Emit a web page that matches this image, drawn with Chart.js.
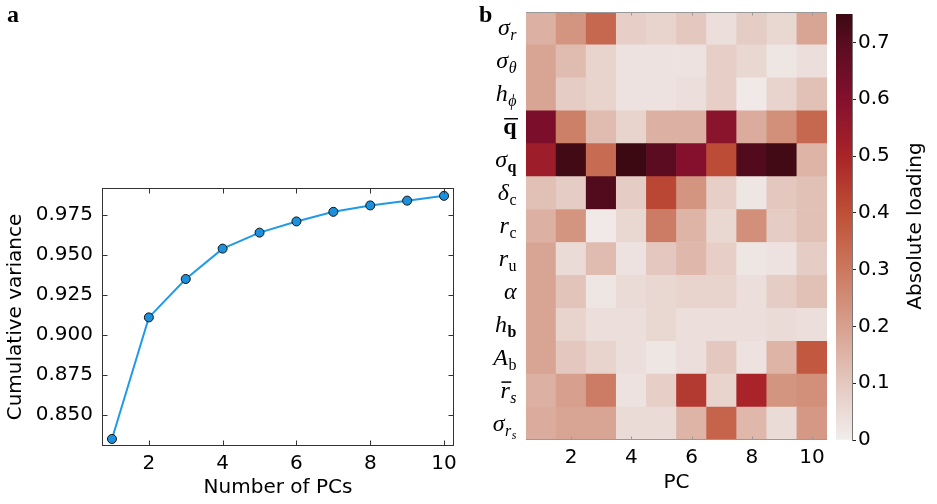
<!DOCTYPE html>
<html>
<head>
<meta charset="utf-8">
<script src="https://cdn.jsdelivr.net/npm/chart.js@4.4.1/dist/chart.umd.min.js"></script>
<style>
  body { margin: 0; background: #fff; }
  #wrap { position: relative; width: 937px; height: 504px; overflow: hidden; }
  canvas { position: absolute; top: 0; }
  .panel { position: absolute; top: 2px; font: bold 24px/24px 'Liberation Serif', serif; color: #000; }
</style>
</head>
<body>
<div id="wrap">
  <canvas id="varChart" width="470" height="504" style="left:0"></canvas>
  <canvas id="heatChart" width="366" height="504" style="left:470px"></canvas>
  <canvas id="barChart" width="101" height="504" style="left:836px"></canvas>
  <div class="panel" style="left:7px">a</div>
  <div class="panel" style="left:479px">b</div>
</div>
<script>
// panel a
var pcs = [1, 2, 3, 4, 5, 6, 7, 8, 9, 10];
var cumVar = [0.835, 0.911, 0.935, 0.954, 0.964, 0.971, 0.977, 0.981, 0.984, 0.987];
var varTicks = [0.850, 0.875, 0.900, 0.925, 0.950, 0.975];
var pcTicks = [2, 4, 6, 8, 10];

// panel b
var pcLabels = ['1', '2', '3', '4', '5', '6', '7', '8', '9', '10'];
var rows = ['σ_r', 'σ_θ', 'h_ϕ', 'q̄', 'σ_q', 'δ_c', 'r_c', 'r_u', 'α', 'h_b', 'A_b', 'r̄_s', 'σ_rs'];
var loadings = [
  [0.16, 0.23, 0.34, 0.08, 0.07, 0.10, 0.04, 0.09, 0.06, 0.19],
  [0.19, 0.13, 0.07, 0.03, 0.03, 0.03, 0.08, 0.06, 0.02, 0.04],
  [0.19, 0.09, 0.07, 0.03, 0.03, 0.04, 0.08, 0.01, 0.07, 0.12],
  [0.62, 0.28, 0.13, 0.07, 0.16, 0.16, 0.58, 0.17, 0.24, 0.34],
  [0.53, 0.74, 0.33, 0.75, 0.69, 0.60, 0.41, 0.71, 0.74, 0.15],
  [0.12, 0.09, 0.71, 0.09, 0.42, 0.23, 0.08, 0.02, 0.10, 0.12],
  [0.16, 0.23, 0.01, 0.06, 0.29, 0.15, 0.06, 0.24, 0.09, 0.12],
  [0.19, 0.05, 0.13, 0.03, 0.10, 0.14, 0.08, 0.02, 0.03, 0.09],
  [0.19, 0.11, 0.02, 0.05, 0.06, 0.07, 0.07, 0.04, 0.09, 0.12],
  [0.19, 0.07, 0.04, 0.04, 0.06, 0.04, 0.04, 0.04, 0.05, 0.04],
  [0.19, 0.10, 0.07, 0.04, 0.02, 0.04, 0.10, 0.03, 0.15, 0.38],
  [0.16, 0.20, 0.29, 0.03, 0.08, 0.45, 0.07, 0.50, 0.23, 0.24],
  [0.17, 0.19, 0.19, 0.05, 0.05, 0.15, 0.35, 0.14, 0.05, 0.22]
];
var cbMax = 0.75;
var cbTicks = [0, 0.1, 0.2, 0.3, 0.4, 0.5, 0.6, 0.7];

// colormap (like cmocean amp), keyed on loading value
var ampStops = [
  [0, [241, 237, 236]], [0.1, [228, 200, 191]], [0.2, [215, 160, 142]],
  [0.3, [203, 120, 95]], [0.4, [190, 80, 55]], [0.5, [168, 36, 40]],
  [0.6, [132, 16, 46]], [0.7, [88, 12, 32]], [0.75, [60, 9, 18]]
];
function ampColor(v) {
  for (var i = 1; i < ampStops.length; i++) {
    if (v <= ampStops[i][0]) {
      var a = ampStops[i - 1], b = ampStops[i];
      var t = (v - a[0]) / (b[0] - a[0]);
      var c = a[1].map(function (ch, k) { return Math.round(ch + (b[1][k] - ch) * t); });
      return 'rgb(' + c.join(',') + ')';
    }
  }
  return 'rgb(60,9,18)';
}

var tickFont = { family: 'DejaVu Sans', size: 20 };

// frame with inward ticks for panel a
var boxTicks = {
  id: 'boxTicks',
  afterDraw: function (chart) {
    var ctx = chart.ctx, a = chart.chartArea, x = chart.scales.x, y = chart.scales.y;
    var l = Math.round(a.left) + 0.5, r = Math.round(a.right) - 0.5;
    var t = Math.round(a.top) + 0.5, b = Math.round(a.bottom) - 0.5;
    ctx.save();
    ctx.strokeStyle = '#333';
    ctx.lineWidth = 1;
    ctx.strokeRect(l, t, r - l, b - t);
    ctx.beginPath();
    varTicks.forEach(function (v) {
      var py = Math.round(y.getPixelForValue(v)) + 0.5;
      ctx.moveTo(l, py); ctx.lineTo(l + 5, py);
      ctx.moveTo(r, py); ctx.lineTo(r - 5, py);
    });
    pcTicks.forEach(function (v) {
      var px = Math.round(x.getPixelForValue(v)) + 0.5;
      ctx.moveTo(px, b); ctx.lineTo(px, b - 5);
      ctx.moveTo(px, t); ctx.lineTo(px, t + 5);
    });
    ctx.stroke();
    ctx.restore();
  }
};

new Chart(document.getElementById('varChart'), {
  type: 'line',
  data: {
    datasets: [{
      data: pcs.map(function (p, i) { return { x: p, y: cumVar[i] }; }),
      borderColor: '#1f9ae8',
      borderWidth: 2,
      pointRadius: 4.5,
      pointBackgroundColor: '#1b90dd',
      pointBorderColor: '#111',
      pointBorderWidth: 1,
      tension: 0
    }]
  },
  options: {
    responsive: false,
    animation: false,
    layout: { padding: { left: 0, top: 188, right: 16, bottom: 0 } },
    plugins: { legend: { display: false }, tooltip: { enabled: false } },
    scales: {
      x: {
        type: 'linear', min: 0.73, max: 10.27,
        afterBuildTicks: function (s) { s.ticks = pcTicks.map(function (v) { return { value: v }; }); },
        afterFit: function (s) { s.height = 58; },
        grid: { display: false, drawTicks: false },
        border: { display: false },
        ticks: { padding: 6, color: '#000', font: tickFont, maxRotation: 0 },
        title: { display: true, text: 'Number of PCs', color: '#000', font: tickFont, padding: { top: 0, bottom: 4 } }
      },
      y: {
        min: 0.8306, max: 0.9919,
        afterBuildTicks: function (s) { s.ticks = varTicks.map(function (v) { return { value: v }; }); },
        afterFit: function (s) { s.width = 102; },
        grid: { display: false, drawTicks: false },
        border: { display: false },
        ticks: { padding: 9, color: '#000', font: tickFont, callback: function (v) { return v.toFixed(3); } },
        title: { display: true, text: 'Cumulative variance', color: '#000', font: tickFont, padding: { top: 4, bottom: 0 } }
      }
    }
  },
  plugins: [boxTicks]
});

// row labels drawn as small math: [text, style, level, overbar]
var rowParts = {
  'σ_r': [['σ', 'i', 0], ['r', 'i', 1]],
  'σ_θ': [['σ', 'i', 0], ['θ', 'i', 1]],
  'h_ϕ': [['h', 'i', 0], ['ϕ', 'i', 1]],
  'q̄': [['q', 'b', 0, true]],
  'σ_q': [['σ', 'i', 0], ['q', 'b', 1]],
  'δ_c': [['δ', 'i', 0], ['c', 'r', 1]],
  'r_c': [['r', 'i', 0], ['c', 'r', 1]],
  'r_u': [['r', 'i', 0], ['u', 'r', 1]],
  'α': [['α', 'i', 0]],
  'h_b': [['h', 'i', 0], ['b', 'b', 1]],
  'A_b': [['A', 'i', 0], ['b', 'r', 1]],
  'r̄_s': [['r', 'i', 0, true], ['s', 'i', 1]],
  'σ_rs': [['σ', 'i', 0], ['r', 'i', 1], ['s', 'i', 2]]
};
var sizes = [24, 16, 12], drops = [0, 5, 8];
function partFont(p) {
  var st = p[1] === 'i' ? 'italic ' : (p[1] === 'b' ? 'bold ' : '');
  return st + sizes[p[2]] + 'px "Liberation Serif", serif';
}
function drawMath(ctx, parts, right, base) {
  var widths = parts.map(function (p) { ctx.font = partFont(p); return ctx.measureText(p[0]).width + 0.5; });
  var x = right - widths.reduce(function (s, w) { return s + w; }, 0);
  parts.forEach(function (p, i) {
    ctx.font = partFont(p);
    ctx.fillText(p[0], x, base + drops[p[2]]);
    if (p[3]) {
      var by = base - Math.round(sizes[p[2]] * 0.66) + 0.5;
      ctx.beginPath();
      ctx.moveTo(x + 1, by); ctx.lineTo(x + widths[i] + 1, by);
      ctx.stroke();
    }
    x += widths[i];
  });
}

var heatDecor = {
  id: 'heatDecor',
  afterDraw: function (chart) {
    var ctx = chart.ctx, a = chart.chartArea, x = chart.scales.x, y = chart.scales.y;
    var t = Math.round(a.top) + 0.5, b = Math.round(a.bottom) - 0.5;
    ctx.save();
    ctx.strokeStyle = '#999';
    ctx.lineWidth = 1;
    ctx.beginPath();
    ctx.moveTo(a.left, t); ctx.lineTo(a.right, t);
    ctx.moveTo(a.left, b); ctx.lineTo(a.right, b);
    pcLabels.forEach(function (l, i) {
      if (i % 2 === 1) {
        var px = Math.round(x.getPixelForValue(i)) + 0.5;
        ctx.moveTo(px, t); ctx.lineTo(px, t + 3);
        ctx.moveTo(px, b); ctx.lineTo(px, b - 3);
      }
    });
    ctx.stroke();
    ctx.fillStyle = '#000';
    ctx.strokeStyle = '#000';
    ctx.lineWidth = 1.5;
    ctx.textAlign = 'left';
    ctx.textBaseline = 'alphabetic';
    rows.forEach(function (r, i) {
      var py = y.getPixelForValue(rows.length - i - 0.5);
      drawMath(ctx, rowParts[r], a.left - 9, py + 7);
    });
    ctx.restore();
  }
};

new Chart(document.getElementById('heatChart'), {
  type: 'bar',
  data: {
    labels: pcLabels,
    datasets: rows.map(function (r, i) {
      return {
        label: r,
        data: pcLabels.map(function () { return 1; }),
        backgroundColor: loadings[i].map(ampColor),
        borderWidth: 0,
        barPercentage: 1,
        categoryPercentage: 1
      };
    }).reverse()
  },
  options: {
    responsive: false,
    animation: false,
    layout: { padding: { left: 0, top: 12, right: 9, bottom: 0 } },
    plugins: { legend: { display: false }, tooltip: { enabled: false } },
    scales: {
      x: {
        stacked: true,
        afterFit: function (s) { s.height = 64; },
        grid: { display: false, drawTicks: false },
        border: { display: false },
        ticks: {
          autoSkip: false, maxRotation: 0, padding: 6, color: '#000', font: tickFont,
          callback: function (v, i) { return i % 2 === 1 ? pcLabels[i] : ''; }
        },
        title: { display: true, text: 'PC', color: '#000', font: tickFont, padding: { top: 0, bottom: 9 } }
      },
      y: {
        stacked: true, min: 0, max: rows.length,
        afterBuildTicks: function (s) { s.ticks = rows.map(function (r, i) { return { value: i + 0.5 }; }); },
        afterFit: function (s) { s.width = 56; },
        grid: { display: false, drawTicks: false },
        border: { display: false },
        ticks: { display: false }
      }
    }
  },
  plugins: [heatDecor]
});

// colorbar
var cbTitle = {
  id: 'cbTitle',
  afterDraw: function (chart) {
    var ctx = chart.ctx;
    ctx.save();
    ctx.translate(80, 226);
    ctx.rotate(-Math.PI / 2);
    ctx.font = '20px "DejaVu Sans"';
    ctx.fillStyle = '#000';
    ctx.textAlign = 'center';
    ctx.textBaseline = 'middle';
    ctx.fillText('Absolute loading', 0, 0);
    ctx.restore();
  }
};

new Chart(document.getElementById('barChart'), {
  type: 'bar',
  data: {
    labels: [''],
    datasets: [{
      data: [[0, cbMax]],
      borderWidth: 0,
      barPercentage: 1,
      categoryPercentage: 1,
      backgroundColor: function (c) {
        var ch = c.chart;
        if (!ch.chartArea) return null;
        var y = ch.scales.y;
        var g = ch.ctx.createLinearGradient(0, y.getPixelForValue(0), 0, y.getPixelForValue(cbMax));
        ampStops.forEach(function (s) { g.addColorStop(s[0] / cbMax, ampColor(s[0])); });
        return g;
      }
    }]
  },
  options: {
    responsive: false,
    animation: false,
    layout: { padding: { left: 0, top: 12, right: 0, bottom: 64 } },
    plugins: { legend: { display: false }, tooltip: { enabled: false } },
    scales: {
      x: { display: false },
      y: {
        position: 'right', min: 0, max: cbMax,
        afterBuildTicks: function (s) { s.ticks = cbTicks.map(function (v) { return { value: v }; }); },
        afterFit: function (s) { s.width = 85; },
        grid: { drawOnChartArea: false, drawTicks: true, tickLength: 4, color: '#222' },
        border: { display: true, color: '#777' },
        ticks: { padding: 2, color: '#000', font: tickFont, callback: function (v) { return v === 0 ? '0' : v.toFixed(1); } }
      }
    }
  },
  plugins: [cbTitle]
});
</script>
</body>
</html>
